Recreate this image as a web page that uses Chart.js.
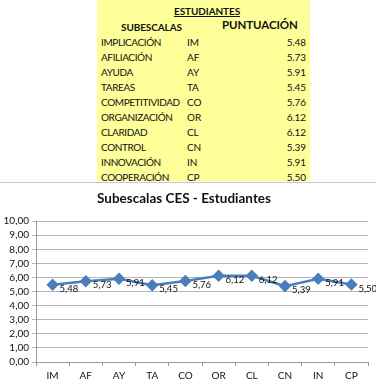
<!DOCTYPE html>
<html>
<head>
<meta charset="utf-8">
<script src="https://cdn.jsdelivr.net/npm/chart.js@4.4.1/dist/chart.umd.min.js"></script>
<style>
	body { margin:0; width:376px; height:386px; background:#fff; font-family:Lato, "Open Sans", sans-serif; overflow:hidden; position:relative; }
	#tabla { position:absolute; left:97px; top:0; width:213px; height:181px; background:#ffff99; }
	#tabla div { position:absolute; font-size:10px; letter-spacing:-0.1px; color:#111; white-space:nowrap; line-height:14px; }
	#tabla div.n { letter-spacing:-0.4px; }
	.b { font-weight:bold; }
	#borde { position:absolute; left:0; top:182px; width:376px; height:1px; background:#c8c8c8; }
	#caja { position:absolute; left:0; top:183px; width:376px; height:203px; }
</style>
</head>
<body>
<div id="tabla"></div>
<div id="borde"></div>
<div id="caja"><canvas id="grafico"></canvas></div>
<script>
// datos de la tabla / grafico
var nombres = ['IMPLICACIÓN','AFILIACIÓN','AYUDA','TAREAS','COMPETITIVIDAD','ORGANIZACIÓN','CLARIDAD','CONTROL','INNOVACIÓN','COOPERACIÓN'];
var codigos = ['IM','AF','AY','TA','CO','OR','CL','CN','IN','CP'];
var puntuaciones = [5.48, 5.73, 5.91, 5.45, 5.76, 6.12, 6.12, 5.39, 5.91, 5.50];
var ticksY = ['0,00','1,00','2,00','3,00','4,00','5,00','6,00','7,00','8,00','9,00','10,00'];

// tabla amarilla
var tabla = document.getElementById('tabla');
function celda(txt, x, y, cls, extra){
	var d = document.createElement('div');
	d.textContent = txt;
	d.style.top = y + 'px';
	if (x != null) d.style.left = x + 'px';
	if (cls) d.className = cls;
	if (extra) d.style.cssText += extra;
	tabla.appendChild(d);
	return d;
}
celda('ESTUDIANTES', 77, 4, 'b', 'text-decoration:underline;');
celda('SUBESCALAS', 24, 20, 'b');
celda('PUNTUACIÓN', 125, 18, 'b', 'font-size:11.5px;');
for (var i = 0; i < nombres.length; i++) {
	var y = 35 + i * 15;
	celda(nombres[i], 4, y, 'n');
	celda(codigos[i], 90, y);
	celda(puntuaciones[i].toFixed(2), null, y, '', 'right:4px;');
}

// etiquetas de datos a la derecha del punto
var etiquetas = {
	id: 'etiquetas',
	afterDatasetsDraw: function(chart){
		var ctx = chart.ctx;
		var meta = chart.getDatasetMeta(0);
		ctx.save();
		ctx.font = '9.5px Lato';
		ctx.fillStyle = '#111';
		ctx.textAlign = 'left';
		ctx.textBaseline = 'middle';
		meta.data.forEach(function(p, k){
			ctx.fillText(puntuaciones[k].toFixed(2).replace('.', ','), p.x + 7, p.y + 4);
		});
		ctx.restore();
	}
};

new Chart(document.getElementById('grafico'), {
	type: 'line',
	data: {
		labels: codigos,
		datasets: [{
			data: puntuaciones,
			borderColor: '#4a7ebb',
			backgroundColor: '#4a7ebb',
			borderWidth: 2.5,
			pointStyle: 'rectRot',
			pointRadius: 4.5,
			pointHoverRadius: 4.5,
			tension: 0
		}]
	},
	options: {
		responsive: true,
		maintainAspectRatio: false,
		animation: false,
		layout: { padding: { left: 0, right: 8, top: 0, bottom: 0 } },
		plugins: {
			legend: { display: false },
			tooltip: { enabled: false },
			title: {
				display: true,
				text: 'Subescalas CES - Estudiantes',
				color: '#111',
				font: { family: 'Lato', size: 13.5, weight: 'bold' },
				padding: { top: 8, bottom: 14 }
			}
		},
		scales: {
			x: {
				offset: true,
				grid: { display: true, drawOnChartArea: false, offset: true, tickLength: 4, color: '#9a9a9a' },
				border: { color: '#9a9a9a' },
				ticks: { color: '#111', font: { family: 'Lato', size: 10 }, padding: 4, maxRotation: 0, autoSkip: false },
				afterFit: function(s){ s.height = 24; }
			},
			y: {
				min: 0,
				max: 10,
				grid: { color: '#b4b4b4', tickLength: 4 },
				border: { color: '#9a9a9a' },
				ticks: {
					stepSize: 1,
					autoSkip: false,
					color: '#111',
					font: { family: 'Lato', size: 10 },
					padding: 3,
					callback: function(v){ return ticksY[v]; }
				},
				afterFit: function(s){ s.width = 36; }
			}
		}
	},
	plugins: [etiquetas]
});
</script>
</body>
</html>
